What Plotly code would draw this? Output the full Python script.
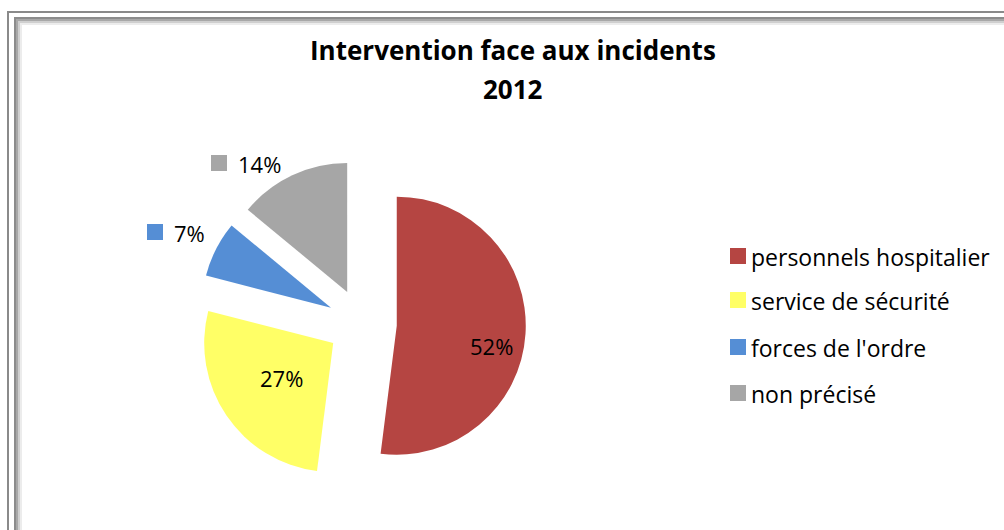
import plotly.graph_objects as go

W, H = 1004, 530

categories = ["personnels hospitalier", "service de sécurité", "forces de l'ordre", "non précisé"]
values = [52, 27, 7, 14]
colors = ["#B54542", "#FFFF66", "#558ED5", "#A6A6A6"]
title_lines = ["Intervention face aux incidents", "2012"]

FONT = "Open Sans"

def px_x(x):
    return x / W

def px_y(y):
    return 1 - y / H

pull = 0.27
# pie box (pixels)
cx, cy, r = 362, 323.5, 129
half = r * (1 + pull)
dom_x = [px_x(cx - half), px_x(cx + half)]
dom_y = [px_y(cy + half), px_y(cy - half)]

fig = go.Figure()
fig.add_trace(go.Pie(
    labels=categories,
    values=values,
    sort=False,
    direction="clockwise",
    rotation=0,
    pull=[pull] * len(values),
    marker=dict(colors=colors, line=dict(width=0)),
    textinfo="none",
    hoverinfo="label+percent",
    domain=dict(x=dom_x, y=dom_y),
    showlegend=False,
))

total = sum(values)
pct = [f"{round(v / total * 100)}%" for v in values]

annotations = []
shapes = []

# title (two lines placed separately)
for line, y in zip(title_lines, [50, 89]):
    annotations.append(dict(
        x=px_x(513), y=px_y(y), xref="paper", yref="paper",
        text=f"<b>{line}</b>", showarrow=False,
        font=dict(family=FONT, size=26, color="#000000"),
        xanchor="center", yanchor="middle",
    ))

# data labels: inside for big slices
inside_pos = {0: (491, 346), 1: (281, 378)}
for i, (x, y) in inside_pos.items():
    annotations.append(dict(
        x=px_x(x), y=px_y(y), xref="paper", yref="paper",
        text=pct[i], showarrow=False,
        font=dict(family=FONT, size=22, color="#000000"),
        xanchor="center", yanchor="middle",
    ))

# outside labels with legend keys
outside_pos = {2: (147, 232), 3: (211, 163)}
for i, (x, y) in outside_pos.items():
    shapes.append(dict(
        type="rect", xref="paper", yref="paper",
        x0=px_x(x), x1=px_x(x + 16), y0=px_y(y - 8), y1=px_y(y + 8),
        fillcolor=colors[i], line=dict(width=0),
    ))
    annotations.append(dict(
        x=px_x(x + 25), y=px_y(y + 1), xref="paper", yref="paper",
        text=pct[i], showarrow=False,
        font=dict(family=FONT, size=22, color="#000000"),
        xanchor="left", yanchor="middle",
    ))

# legend
leg_y = [256, 300, 347, 393]
for i, name in enumerate(categories):
    y = leg_y[i]
    shapes.append(dict(
        type="rect", xref="paper", yref="paper",
        x0=px_x(730), x1=px_x(746), y0=px_y(y - 8), y1=px_y(y + 8),
        fillcolor=colors[i], line=dict(width=0),
    ))
    annotations.append(dict(
        x=px_x(749), y=px_y(y + 1), xref="paper", yref="paper",
        text=name, showarrow=False,
        font=dict(family=FONT, size=23, color="#000000"),
        xanchor="left", yanchor="middle",
    ))

# frame
shapes.append(dict(type="rect", xref="paper", yref="paper",
                   x0=px_x(8), x1=px_x(1010), y0=px_y(540), y1=px_y(12),
                   line=dict(color="#8A8A8A", width=2), layer="below"))
for off, col in [(0, "#8C8C8C"), (2, "#A8A8A8"), (4, "#CFCFCF"), (6, "#ECECEC")]:
    shapes.append(dict(type="rect", xref="paper", yref="paper",
                       x0=px_x(15 + off), x1=px_x(1010), y0=px_y(540), y1=px_y(18 + off),
                       line=dict(color=col, width=2), layer="below"))

fig.update_layout(
    width=W, height=H,
    margin=dict(l=0, r=0, t=0, b=0),
    paper_bgcolor="#FFFFFF",
    plot_bgcolor="#FFFFFF",
    annotations=annotations,
    shapes=shapes,
    showlegend=False,
)

fig.write_html("out.html")
